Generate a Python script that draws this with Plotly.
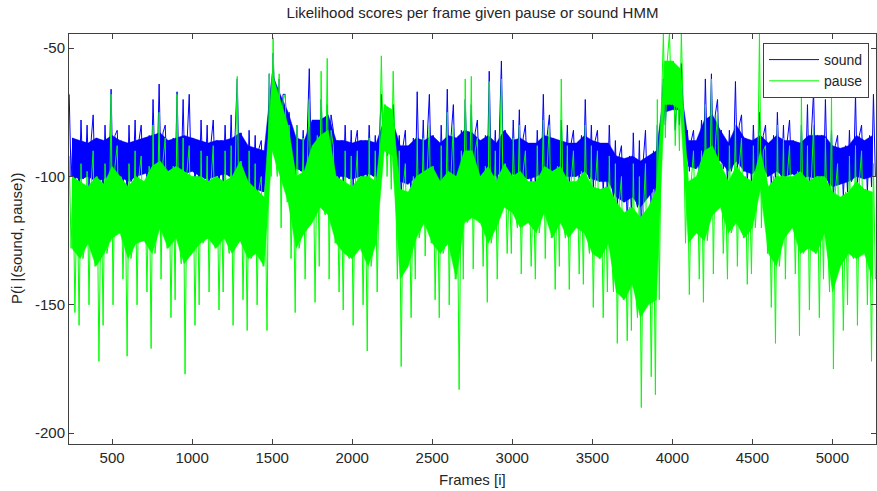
import plotly.graph_objects as go

# Frame bins (50-frame bins), values per bin
bin_frames = list(range(250, 5251, 50))

# sound (blue): spike top, band top, band bottom, low
sound_hi = [-68,-78,-80,-76,-80,-66,-82,-80,-78,-80, -70,-64,-80,-67,-70,-68,-78,-80,-78,-80,
            -76,-62,-82,-84,-86,-52,-62,-68,-80,-82, -58,-70,-72,-82,-80,-82,-82,-80,-84,-68,
            -72,-84,-82,-67,-78,-68,-80,-66,-72,-70, -72,-78,-59,-82,-55,-78,-74,-80,-82,-68,
            -76,-78,-80,-82,-70,-80,-82,-80,-86,-88, -83,-86,-82,-80,-62,-60,-56,-82,-82,-62,
            -60,-70,-82,-63,-76,-80,-75,-80,-75,-80, -78,-80,-72,-67,-70,-82,-84,-82,-68,-80,
            -68]
sound_band_top = [-85,-86,-87,-85,-86,-84,-86,-87,-86,-85, -84,-83,-86,-85,-84,-85,-86,-87,-86,-86,
                  -85,-83,-88,-89,-90,-60,-68,-75,-85,-86, -78,-78,-76,-86,-86,-87,-86,-86,-87,-78,
                  -78,-88,-88,-85,-86,-84,-87,-84,-85,-82, -83,-86,-84,-87,-82,-86,-85,-87,-87,-84,
                  -85,-86,-87,-87,-84,-86,-87,-87,-92,-93, -92,-94,-92,-90,-66,-64,-64,-86,-86,-78,
                  -76,-82,-87,-80,-85,-86,-84,-87,-84,-86, -86,-87,-84,-84,-84,-88,-89,-88,-84,-86,
                  -84]
sound_band_bot = [-100,-101,-100,-102,-101,-98,-100,-102,-100,-99, -98,-97,-100,-99,-99,-98,-100,-101,-100,-99,
                  -100,-98,-104,-105,-106,-75,-82,-88,-97,-98, -92,-90,-90,-100,-100,-101,-100,-99,-100,-86,
                  -86,-102,-103,-100,-99,-98,-102,-99,-100,-96, -97,-100,-98,-100,-97,-99,-100,-101,-100,-98,
                  -99,-100,-100,-100,-98,-101,-102,-102,-108,-110, -108,-112,-108,-104,-75,-74,-74,-96,-97,-92,
                  -90,-94,-98,-94,-98,-99,-95,-100,-98,-100, -99,-101,-100,-101,-100,-104,-103,-102,-100,-101,
                  -100]
sound_lo = [-105,-108,-104,-106,-110,-104,-106,-108,-105,-103, -102,-100,-104,-102,-104,-103,-105,-106,-104,-103,
            -105,-104,-108,-110,-112,-85,-88,-95,-100,-104, -98,-96,-95,-104,-103,-104,-105,-102,-104,-92,
            -90,-108,-110,-105,-103,-104,-108,-104,-106,-102, -103,-105,-100,-104,-100,-103,-104,-106,-104,-102,
            -104,-103,-104,-103,-102,-105,-106,-108,-112,-118, -115,-122,-115,-112,-80,-82,-80,-98,-100,-98,
            -95,-97,-102,-98,-102,-103,-98,-104,-102,-104, -103,-105,-106,-108,-105,-110,-108,-106,-104,-106,
            -104]

# pause (green): spike top, band top, band bottom, deepest dip
pause_hi = [-92,-95,-98,-90,-95,-68,-88,-95,-90,-92, -80,-75,-85,-68,-85,-88,-90,-92,-88,-90,
            -88,-61,-90,-95,-100,-46,-60,-68,-80,-85, -70,-59,-54,-88,-90,-92,-90,-85,-90,-53,
            -59,-90,-95,-85,-85,-80,-88,-75,-80,-62, -61,-85,-63,-90,-62,-85,-80,-90,-88,-78,
            -80,-62,-88,-90,-80,-88,-90,-92,-95,-100, -95,-100,-95,-70,-44,-44,-44,-95,-90,-72,
            -62,-75,-88,-80,-85,-88,-44,-88,-80,-85, -88,-68,-88,-80,-85,-68,-95,-92,-88,-90,
            -95]
pause_band_top = [-100,-102,-104,-100,-103,-96,-100,-104,-100,-102, -96,-94,-98,-96,-98,-100,-100,-102,-100,-102,
                  -100,-94,-102,-105,-108,-60,-70,-80,-100,-98, -88,-84,-82,-100,-102,-104,-100,-100,-102,-72,
                  -74,-105,-106,-100,-98,-96,-102,-98,-100,-90, -90,-100,-96,-102,-95,-100,-98,-102,-102,-96,
                  -98,-96,-102,-102,-98,-104,-105,-104,-110,-114, -112,-116,-112,-105,-55,-55,-58,-102,-100,-90,
                  -88,-95,-102,-96,-100,-102,-90,-104,-100,-100, -100,-98,-102,-100,-100,-106,-108,-106,-102,-105,
                  -106]
pause_band_bot = [-128,-132,-126,-135,-130,-124,-122,-132,-126,-125, -130,-120,-128,-124,-134,-130,-126,-124,-128,-124,
                  -130,-125,-132,-130,-135,-90,-100,-110,-128,-122, -118,-112,-115,-126,-130,-132,-128,-135,-126,-90,
                  -92,-140,-135,-124,-118,-126,-130,-126,-140,-118, -116,-118,-126,-120,-112,-114,-120,-118,-122,-114,
                  -124,-118,-124,-120,-122,-130,-132,-126,-145,-148, -142,-155,-150,-148,-72,-72,-74,-126,-122,-125,
                  -115,-112,-122,-118,-124,-120,-105,-130,-135,-124, -120,-130,-128,-130,-122,-145,-135,-130,-132,-130,
                  -140]
pause_lo = [-153,-158,-150,-172,-158,-150,-140,-170,-150,-145, -167,-140,-155,-148,-177,-158,-150,-145,-152,-145,
            -158,-148,-160,-150,-160,-100,-120,-132,-153,-140, -149,-135,-140,-145,-152,-158,-150,-168,-145,-100,
            -105,-174,-155,-140,-131,-148,-155,-150,-183,-140, -136,-135,-149,-140,-130,-130,-138,-135,-140,-132,
            -144,-135,-144,-138,-142,-151,-155,-145,-165,-164, -160,-190,-178,-185,-85,-88,-90,-146,-140,-149,
            -138,-130,-140,-135,-142,-138,-120,-151,-165,-140, -138,-162,-152,-155,-140,-175,-160,-150,-158,-150,
            -172]

x_ticks = [500, 1000, 1500, 2000, 2500, 3000, 3500, 4000, 4500, 5000]
y_ticks = [-50, -100, -150, -200]
y_tick_text = ["-50", "-100", "-150", "-200"]

BLUE = "#0000ff"
GREEN = "#00ff00"


def trace_points(hi, btop, bbot, lo):
    xs, ys = [], []
    for i, (f, a, b, c, d) in enumerate(zip(bin_frames, hi, bbot, btop, lo)):
        xs += [f - 18, f - 6, f + 6, f + 18]
        # vary the order inside each bin so the spikes do not form a regular comb
        r = i % 3
        if r == 0:
            ys += [a, b, c, d]
        elif r == 1:
            ys += [c, d, a, b]
        else:
            ys += [b, a, d, c]
    return xs, ys


def band_polygon(btop, bbot):
    xs = bin_frames + bin_frames[::-1]
    ys = list(btop) + list(bbot)[::-1]
    return xs, ys


sx, sy = trace_points(sound_hi, sound_band_top, sound_band_bot, sound_lo)
px, py = trace_points(pause_hi, pause_band_top, pause_band_bot, pause_lo)
sbx, sby = band_polygon(sound_band_top, sound_band_bot)
pbx, pby = band_polygon(pause_band_top, pause_band_bot)

FONT = "Liberation Sans, Arial, sans-serif"
TXT = "#262626"
AX = "#404040"
FS = 15

fig = go.Figure()
fig.add_trace(go.Scatter(x=sbx, y=sby, mode="lines", fill="toself", fillcolor=BLUE,
                         line=dict(color=BLUE, width=0.5), showlegend=False, hoverinfo="skip"))
fig.add_trace(go.Scatter(x=sx, y=sy, mode="lines", name="sound",
                         line=dict(color=BLUE, width=1)))
fig.add_trace(go.Scatter(x=pbx, y=pby, mode="lines", fill="toself", fillcolor=GREEN,
                         line=dict(color=GREEN, width=0.5), showlegend=False, hoverinfo="skip"))
fig.add_trace(go.Scatter(x=px, y=py, mode="lines", name="pause",
                         line=dict(color=GREEN, width=1)))

axis_common = dict(showline=True, linecolor=AX, linewidth=1, mirror="ticks",
                   ticks="inside", ticklen=5, tickcolor=AX, tickwidth=1,
                   showgrid=False, zeroline=False,
                   tickfont=dict(family=FONT, size=FS, color=TXT))

fig.update_xaxes(range=[231, 5272], tickvals=x_ticks, **axis_common)
fig.update_yaxes(range=[-204.2, -44.5], tickvals=y_ticks, ticktext=y_tick_text, **axis_common)

fig.update_layout(
    width=877, height=491,
    margin=dict(l=69, r=1, t=34, b=47),
    plot_bgcolor="white", paper_bgcolor="white",
    font=dict(family=FONT, size=FS, color=TXT),
    title=dict(text="Likelihood scores per frame given pause or sound HMM",
               x=0.5, xref="paper", xanchor="center",
               y=1 - 13 / 491, yref="container", yanchor="middle",
               font=dict(family=FONT, size=FS, color=TXT)),
    legend=dict(x=(763 - 69) / 807, y=(444 - 43) / 410, xanchor="left", yanchor="top",
                bgcolor="white", bordercolor=AX, borderwidth=1,
                font=dict(family=FONT, size=14, color=TXT),
                itemwidth=50, tracegroupgap=0),
    showlegend=True,
    annotations=[
        dict(text="Frames [i]", xref="paper", yref="paper",
             x=0.5, y=(444 - 479) / 410, xanchor="center", yanchor="middle",
             showarrow=False, font=dict(family=FONT, size=FS, color=TXT)),
        dict(text="P(i |(sound, pause))", xref="paper", yref="paper",
             x=(16 - 69) / 807, y=0.5, xanchor="center", yanchor="middle",
             textangle=-90, showarrow=False, font=dict(family=FONT, size=FS, color=TXT)),
    ],
)

fig.write_html("out.html")
